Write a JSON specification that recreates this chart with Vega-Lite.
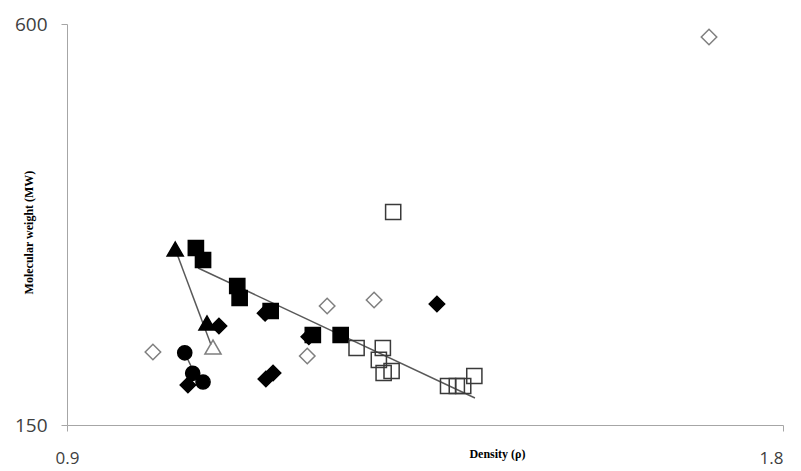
{
  "$schema": "https://vega.github.io/schema/vega-lite/v6.json",
  "width": 716,
  "height": 401,
  "autosize": {"type": "none"},
  "padding": {"left": 67, "top": 24, "right": 18, "bottom": 46},
  "background": "white",
  "config": {"view": {"stroke": null}},
  "datasets": {
    "trend": [
      {"line": "squares", "x": 1.0647, "y": 326.2},
      {"line": "squares", "x": 1.4128, "y": 180.3},
      {"line": "triangles", "x": 1.036, "y": 347.5},
      {"line": "triangles", "x": 1.081, "y": 240.0},
      {"line": "circles", "x": 1.048, "y": 230.8},
      {"line": "circles", "x": 1.057, "y": 214.0}
    ],
    "points": [
      {"series": "open diamond", "x": 1.008, "y": 231.9},
      {"series": "open diamond", "x": 1.707, "y": 585.4},
      {"series": "open diamond", "x": 1.227, "y": 283.5},
      {"series": "open diamond", "x": 1.286, "y": 290.3},
      {"series": "open diamond", "x": 1.202, "y": 227.4},
      {"series": "filled diamond", "x": 1.091, "y": 261.1},
      {"series": "filled diamond", "x": 1.052, "y": 194.9},
      {"series": "filled diamond", "x": 1.150, "y": 201.6},
      {"series": "filled diamond", "x": 1.159, "y": 208.4},
      {"series": "filled diamond", "x": 1.365, "y": 285.8},
      {"series": "filled diamond", "x": 1.149, "y": 275.5},
      {"series": "filled diamond", "x": 1.204, "y": 249.0},
      {"series": "filled circle", "x": 1.048, "y": 231.0},
      {"series": "filled circle", "x": 1.058, "y": 208.0},
      {"series": "filled circle", "x": 1.071, "y": 198.3},
      {"series": "filled triangle", "x": 1.036, "y": 347.5},
      {"series": "filled triangle", "x": 1.076, "y": 264.5},
      {"series": "open triangle", "x": 1.0835, "y": 237.5},
      {"series": "filled square", "x": 1.062, "y": 348.6},
      {"series": "filled square", "x": 1.071, "y": 335.2},
      {"series": "filled square", "x": 1.114, "y": 306.0},
      {"series": "filled square", "x": 1.117, "y": 292.5},
      {"series": "filled square", "x": 1.156, "y": 277.9},
      {"series": "filled square", "x": 1.209, "y": 251.0},
      {"series": "filled square", "x": 1.244, "y": 251.0},
      {"series": "open square", "x": 1.310, "y": 389.0},
      {"series": "open square", "x": 1.264, "y": 236.4},
      {"series": "open square", "x": 1.297, "y": 236.4},
      {"series": "open square", "x": 1.292, "y": 223.0},
      {"series": "open square", "x": 1.298, "y": 208.4},
      {"series": "open square", "x": 1.308, "y": 210.6},
      {"series": "open square", "x": 1.379, "y": 193.8},
      {"series": "open square", "x": 1.390, "y": 193.8},
      {"series": "open square", "x": 1.398, "y": 193.8},
      {"series": "open square", "x": 1.412, "y": 205.0}
    ]
  },
  "encoding": {
    "x": {
      "field": "x", "type": "quantitative",
      "scale": {"domain": [0.9, 1.8], "nice": false, "zero": false},
      "axis": {
        "values": [0.9, 1.8], "format": ".1f", "grid": false,
        "domainColor": "#a6a6a6", "tickColor": "#a6a6a6", "tickSize": 6,
        "labelFont": "Open Sans", "labelFontSize": 17, "labelColor": "#404040",
        "labelPadding": 19, "labelFlush": false, "labelOverlap": false,
        "labelAlign": {"condition": {"test": "datum.value > 1.5", "value": "right"}, "value": "center"},
        "title": "Density (ρ)", "titleFont": "Liberation Serif", "titleFontSize": 12,
        "titleFontWeight": "bold", "titleColor": "black",
        "titleX": 430, "titleY": 28, "titleBaseline": "middle", "titleAlign": "center"
      }
    },
    "y": {
      "field": "y", "type": "quantitative",
      "scale": {"domain": [150, 600], "nice": false, "zero": false},
      "axis": {
        "values": [150, 600], "grid": false,
        "domainColor": "#a6a6a6", "tickColor": "#a6a6a6", "tickSize": 6,
        "labelFont": "Open Sans", "labelFontSize": 19, "labelColor": "#404040",
        "labelPadding": 14, "labelFlush": false, "labelOverlap": false,
        "title": "Molecular weight (MW)", "titleFont": "Liberation Serif", "titleFontSize": 12,
        "titleFontWeight": "bold", "titleColor": "black",
        "titleX": -39, "titleY": 208, "titleBaseline": "middle", "titleAlign": "center", "titleAngle": -90
      }
    }
  },
  "layer": [
    {
      "data": {"name": "trend"},
      "mark": {"type": "line", "color": "#595959", "strokeWidth": 1.5},
      "encoding": {"detail": {"field": "line", "type": "nominal"}}
    },
    {
      "data": {"name": "points"},
      "mark": {"type": "point", "filled": true, "opacity": 1, "strokeWidth": 1.5},
      "encoding": {
        "shape": {
          "field": "series", "type": "nominal", "legend": null,
          "scale": {
            "domain": ["open diamond", "filled diamond", "filled circle", "filled triangle", "open triangle", "filled square", "open square"],
            "range": ["diamond", "diamond", "circle", "triangle-up", "triangle-up", "square", "square"]
          }
        },
        "fill": {
          "field": "series", "type": "nominal", "legend": null,
          "scale": {
            "domain": ["open diamond", "filled diamond", "filled circle", "filled triangle", "open triangle", "filled square", "open square"],
            "range": ["transparent", "black", "black", "black", "transparent", "black", "transparent"]
          }
        },
        "stroke": {
          "field": "series", "type": "nominal", "legend": null,
          "scale": {
            "domain": ["open diamond", "filled diamond", "filled circle", "filled triangle", "open triangle", "filled square", "open square"],
            "range": ["#7f7f7f", "black", "black", "black", "#7f7f7f", "black", "#3a3a3a"]
          }
        },
        "size": {
          "field": "series", "type": "ordinal", "legend": null,
          "scale": {
            "type": "ordinal",
            "domain": ["open diamond", "filled diamond", "filled circle", "filled triangle", "open triangle", "filled square", "open square"],
            "range": [240, 240, 200, 260, 260, 230, 230]
          }
        }
      }
    }
  ]
}
